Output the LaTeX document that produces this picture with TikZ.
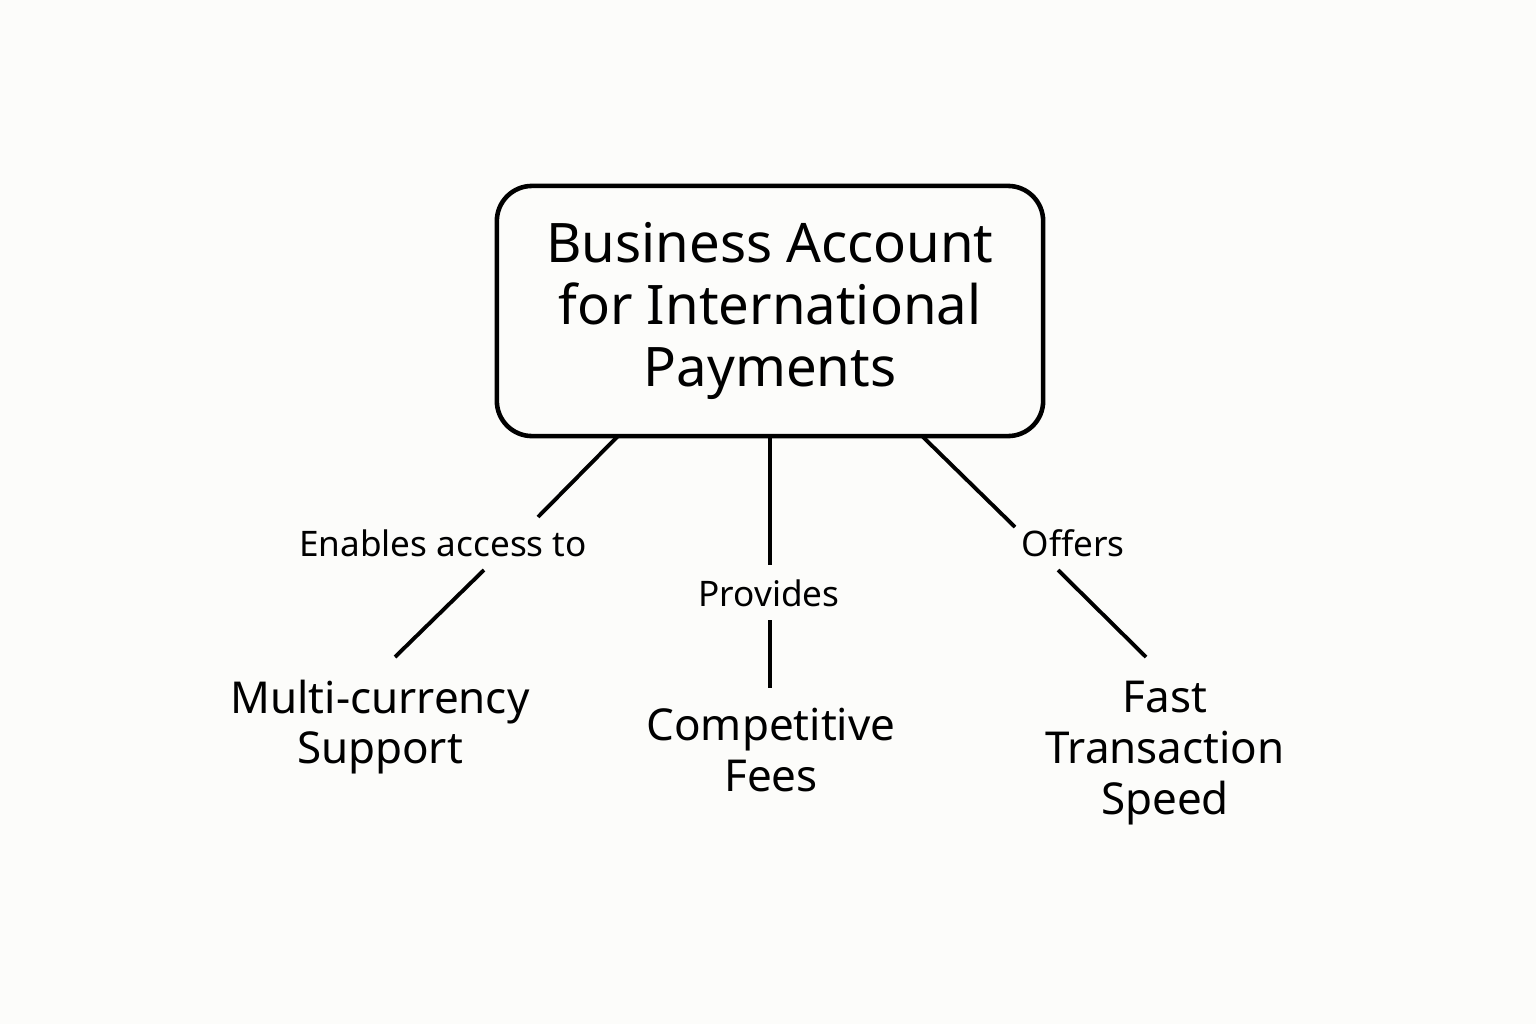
\documentclass[tikz,border=0pt]{standalone}
\usepackage{fontspec}
\setmainfont{Noto Sans}
\usepackage{tikz}
\definecolor{paper}{HTML}{FCFCFA}
\begin{document}
\begin{tikzpicture}[x=0.01cm,y=-0.01cm,
    rootbox/.style={draw,line width=1.3pt,rounded corners=10pt,minimum width=5.46cm,minimum height=2.5cm,align=center,font=\fontsize{15.5}{17.6}\selectfont},
    leaf/.style={align=center,font=\fontsize{12.5}{14.4}\selectfont},
    edgelabel/.style={font=\fontsize{10}{12}\selectfont},
    link/.style={line width=1.1pt}]
    \fill[paper] (0,0) rectangle (1536,1024);
    \useasboundingbox (0,0) rectangle (1536,1024);

    \node[rootbox] (root) at (770,311) {Business Account\\for International\\Payments};

    \node[leaf] (multi) at (380,727) {Multi-currency\\Support};
    \node[leaf] (fees) at (771,750) {Competitive\\Fees};
    \node[leaf] (speed) at (1165,753) {Fast\\Transaction\\Speed};

    \node[edgelabel] (enables) at (443,543) {Enables access to};
    \node[edgelabel] (provides) at (769,593) {Provides};
    \node[edgelabel] (offers) at (1073,543) {Offers};

    % line ends
    \coordinate (a1) at (618,436); \coordinate (a2) at (538,517);
    \coordinate (a3) at (484,570); \coordinate (a4) at (395,657);
    \coordinate (b1) at (770,436); \coordinate (b2) at (770,565);
    \coordinate (b3) at (770,620); \coordinate (b4) at (770,688);
    \coordinate (c1) at (922,436); \coordinate (c2) at (1015,527);
    \coordinate (c3) at (1058,570); \coordinate (c4) at (1146,657);

    \draw[link] (a1) -- (a2);
    \draw[link] (a3) -- (a4);
    \draw[link] (b1) -- (b2);
    \draw[link] (b3) -- (b4);
    \draw[link] (c1) -- (c2);
    \draw[link] (c3) -- (c4);
\end{tikzpicture}
\end{document}
